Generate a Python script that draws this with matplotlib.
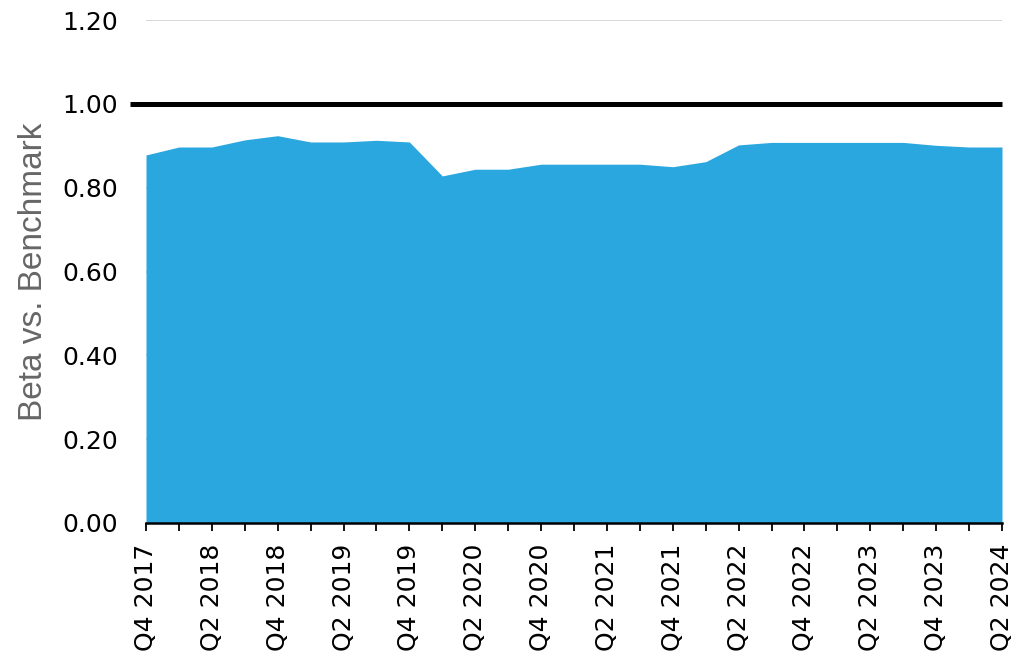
import matplotlib
matplotlib.use("Agg")
import matplotlib.pyplot as plt
import numpy as np

plt.rcParams['font.family'] = ['DejaVu Sans']

quarters = ["Q4 2017", "Q1 2018", "Q2 2018", "Q3 2018", "Q4 2018",
            "Q1 2019", "Q2 2019", "Q3 2019", "Q4 2019",
            "Q1 2020", "Q2 2020", "Q3 2020", "Q4 2020",
            "Q1 2021", "Q2 2021", "Q3 2021", "Q4 2021",
            "Q1 2022", "Q2 2022", "Q3 2022", "Q4 2022",
            "Q1 2023", "Q2 2023", "Q3 2023", "Q4 2023",
            "Q1 2024", "Q2 2024"]
beta = [0.878, 0.897, 0.897, 0.914, 0.924,
        0.909, 0.909, 0.913, 0.909,
        0.828, 0.844, 0.844, 0.856,
        0.856, 0.856, 0.856, 0.850,
        0.862, 0.902, 0.908, 0.908,
        0.908, 0.908, 0.908, 0.901,
        0.897, 0.897]
benchmark = 1.0
y_ticks = [0.0, 0.2, 0.4, 0.6, 0.8, 1.0, 1.2]

fig = plt.figure(figsize=(10.24, 6.58), dpi=100)
ax = fig.add_axes([146 / 1024, 1 - 523 / 658, (1002 - 146) / 1024, (523 - 20) / 658])

x = np.arange(len(quarters))
ax.fill_between(x, 0, beta, color="#2AA7DF", linewidth=0, zorder=2)

ax.set_xlim(0, len(quarters) - 1)
ax.set_ylim(0, 1.2)

ax.set_yticks(y_ticks)
ax.set_yticklabels([f"{v:.2f}" for v in y_ticks])
ax.yaxis.grid(True, color="#d4d4d4", linewidth=1.3, zorder=0)
ax.set_axisbelow(True)

# benchmark reference line, extended slightly into the label margin
ax.axhline(benchmark, xmin=-0.019, xmax=1.0, color="black", linewidth=3.6,
           solid_capstyle="butt", clip_on=False, zorder=3)

ax.set_xticks(x)
ax.set_xticklabels([q if i % 2 == 0 else "" for i, q in enumerate(quarters)],
                   rotation=90)

for side in ("left", "right", "top"):
    ax.spines[side].set_visible(False)
ax.spines["bottom"].set_linewidth(1.8)
ax.spines["bottom"].set_zorder(4)

ax.tick_params(axis="y", length=0, pad=20, labelsize=18, colors="black")
ax.tick_params(axis="x", length=6, width=1.3, pad=9, labelsize=18, colors="black")

ax.set_ylabel("Beta vs. Benchmark", fontsize=24, color="#666666", labelpad=10,
              family=["Liberation Sans", "DejaVu Sans"])

fig.savefig("out.png", dpi=100)
